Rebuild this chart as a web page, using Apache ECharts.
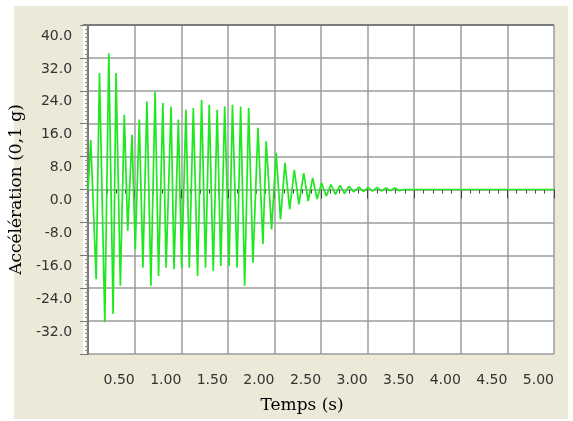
<!DOCTYPE html>
<html>
<head>
<meta charset="utf-8">
<script src="https://cdn.jsdelivr.net/npm/echarts@6/dist/echarts.min.js"></script>
<style>
  html, body { margin: 0; padding: 0; background: #ffffff; }
  #panel { position: absolute; left: 14px; top: 6px; width: 554px; height: 413px; background: #ECE9D8; }
  #chart { position: absolute; left: 0; top: 0; width: 573px; height: 421px; }
</style>
</head>
<body>
<div id="panel"></div>
<div id="chart"></div>
<script>
// Accelerogram: time (s) and acceleration (0.1 g) at successive extrema of the record
const times = [
  0.000, 0.028, 0.086, 0.122, 0.179, 0.222, 0.268, 0.300, 0.346, 0.388,
  0.425, 0.471, 0.506, 0.549, 0.588, 0.631, 0.674, 0.719, 0.756, 0.802,
  0.837, 0.890, 0.922, 0.969, 1.004, 1.050, 1.086, 1.129, 1.175, 1.218,
  1.260, 1.300, 1.343, 1.385, 1.424, 1.466, 1.513, 1.549, 1.599, 1.637,
  1.680, 1.723, 1.769, 1.823, 1.876, 1.911, 1.969, 2.018, 2.065, 2.113,
  2.163, 2.213, 2.262, 2.314, 2.362, 2.410, 2.458, 2.506, 2.556, 2.605,
  2.655, 2.704, 2.752, 2.800, 2.850, 2.907, 2.957, 3.005, 3.053, 3.101,
  3.149, 3.197, 3.245, 3.293, 3.341, 3.384, 5.000
];
const accel = [
  0.0, 12.1, -21.8, 28.3, -32.3, 33.1, -30.3, 28.3, -23.4, 18.2,
  -10.1, 13.3, -14.5, 17.0, -19.0, 21.4, -23.4, 23.8, -21.0, 21.0,
  -19.0, 20.2, -19.4, 17.0, -19.0, 19.4, -19.0, 19.8, -21.0, 21.8,
  -19.0, 20.6, -19.8, 19.4, -18.6, 20.2, -18.6, 20.6, -19.0, 20.2,
  -23.4, 19.8, -17.8, 15.0, -13.3, 11.7, -9.7, 8.9, -7.3, 6.5,
  -4.8, 4.8, -3.6, 4.0, -2.8, 2.8, -2.3, 1.6, -1.6, 1.2,
  -1.2, 1.0, -1.0, 0.8, -0.6, 0.6, -0.5, 0.5, -0.4, 0.5,
  -0.4, 0.4, -0.3, 0.4, -0.3, 0.0, 0.0
];

// Axis ticks
const yTicks = [-40, -32, -24, -16, -8, 0, 8, 16, 24, 32, 40];
const xTicks = [0.5, 1.0, 1.5, 2.0, 2.5, 3.0, 3.5, 4.0, 4.5, 5.0];

const chart = echarts.init(document.getElementById('chart'), null, { renderer: 'canvas' });

const plotLeft = 86, plotTop = 25, plotRight = 554, plotBottom = 354;

chart.setOption({
  animation: false,
  backgroundColor: 'transparent',
  grid: {
    left: plotLeft, top: plotTop,
    right: 573 - plotRight, bottom: 421 - plotBottom,
    show: true, backgroundColor: '#ffffff', borderWidth: 0
  },
  graphic: [
    { type: 'rect', shape: { x: 83, y: plotTop, width: plotLeft - 83, height: plotBottom - plotTop },
      style: { fill: '#ffffff' }, z: -1, silent: true },
    { type: 'line', shape: { x1: 83, y1: plotTop, x2: plotRight, y2: plotTop },
      style: { stroke: '#7a7a7a', lineWidth: 2 }, z: 10, silent: true }
  ],
  xAxis: {
    type: 'value', min: 0, max: 5, interval: 0.5,
    position: 'bottom', offset: 6,
    name: 'Temps (s)', nameLocation: 'middle', nameGap: 37,
    nameTextStyle: { fontFamily: 'DejaVu Serif', fontSize: 17, color: '#000', padding: [0, 38, 0, 0] },
    axisLine: { show: false },
    axisTick: { show: true, length: 9, customValues: xTicks, lineStyle: { color: '#444', width: 1 } },
    minorTick: { show: true, splitNumber: 5, length: 4, lineStyle: { color: '#444', width: 1 } },
    axisLabel: {
      customValues: xTicks, align: 'right', margin: 13,
      fontFamily: 'DejaVu Sans', fontSize: 14, color: '#333',
      formatter: v => v.toFixed(2)
    },
    splitLine: { show: true, lineStyle: { color: '#9c9c9c', width: 1.5 } }
  },
  yAxis: {
    type: 'value', min: -40, max: 40, interval: 8, offset: 3,
    name: 'Accélération (0,1 g)', nameLocation: 'middle', nameGap: 55, nameRotate: 90,
    nameTextStyle: { fontFamily: 'DejaVu Serif', fontSize: 17, color: '#000' },
    axisLine: { show: true, lineStyle: { color: '#7a7a7a', width: 2 } },
    axisTick: { show: true, length: 8, lineStyle: { color: '#777', width: 1 } },
    minorTick: { show: true, splitNumber: 8, length: 3, lineStyle: { color: '#888', width: 1 } },
    axisLabel: {
      showMinLabel: false, margin: 13, verticalAlign: 'top', padding: [4, 0, 0, 0],
      fontFamily: 'DejaVu Sans', fontSize: 14, color: '#333',
      formatter: v => v.toFixed(1)
    },
    splitLine: { show: true, lineStyle: { color: '#9c9c9c', width: 1.5 } }
  },
  series: [{
    type: 'line',
    data: times.map((t, i) => [t, accel[i]]),
    showSymbol: false,
    lineStyle: { color: '#1ee81e', width: 1.7 },
    z: 5
  }]
});
</script>
</body>
</html>
